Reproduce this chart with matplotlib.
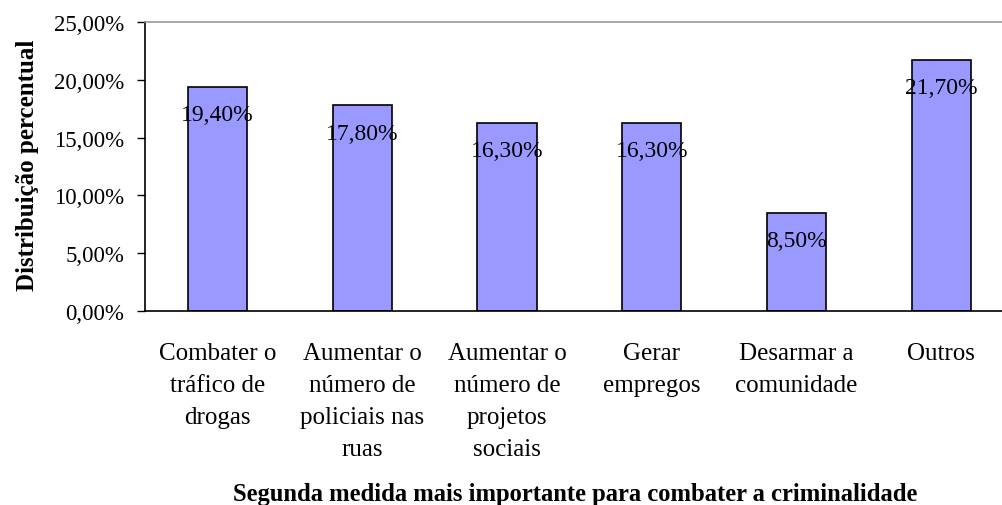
import matplotlib.pyplot as plt
from matplotlib.ticker import FuncFormatter, MultipleLocator

# --- Data ---
categories = [
    "Combater o\ntráfico de\ndrogas",
    "Aumentar o\nnúmero de\npoliciais nas\nruas",
    "Aumentar o\nnúmero de\nprojetos\nsociais",
    "Gerar\nempregos",
    "Desarmar a\ncomunidade",
    "Outros",
]
values = [19.4, 17.8, 16.3, 16.3, 8.5, 21.7]

plt.rcParams['font.family'] = ['Liberation Serif', 'DejaVu Serif']


def pct(v, pos=None):
    return f"{v:.2f}%".replace('.', ',')


fig = plt.figure(figsize=(10.02, 5.06), dpi=100)
ax = fig.add_axes([145 / 1002, 1 - 312 / 506, 857 / 1002, 289 / 506])

x = list(range(len(values)))
bars = ax.bar(x, values, width=0.41, color='#9999FF', edgecolor='black', linewidth=1.2)

for xi, v in zip(x, values):
    ax.annotate(pct(v), (xi, v), xytext=(0, -20), textcoords='offset points',
                ha='center', va='center', fontsize=17)

ax.set_ylim(0, 25)
ax.set_xlim(-0.5, -0.5 + 857 / 144.8)
ax.yaxis.set_major_locator(MultipleLocator(5))
ax.yaxis.set_major_formatter(FuncFormatter(pct))

ax.set_xticks(x)
ax.set_xticklabels(categories, fontsize=18, linespacing=1.58)
ax.tick_params(axis='x', length=0, pad=22.5)
ax.tick_params(axis='y', labelsize=16.5, length=6, width=1, pad=9)

ax.spines['right'].set_visible(False)
ax.spines['top'].set_color('#999999')
ax.spines['top'].set_linewidth(1.2)
ax.spines['left'].set_linewidth(1.2)
ax.spines['bottom'].set_linewidth(1.2)

ax.set_ylabel("Distribuição percentual", fontsize=18, fontweight='bold', va='center')
ax.yaxis.set_label_coords(-0.137, 0.509)
ax.set_xlabel("Segunda medida mais importante para combater a criminalidade",
              fontsize=17.7, fontweight='bold', va='center')
ax.xaxis.set_label_coords(0.502, -0.63)

fig.savefig("out.png", dpi=100)
